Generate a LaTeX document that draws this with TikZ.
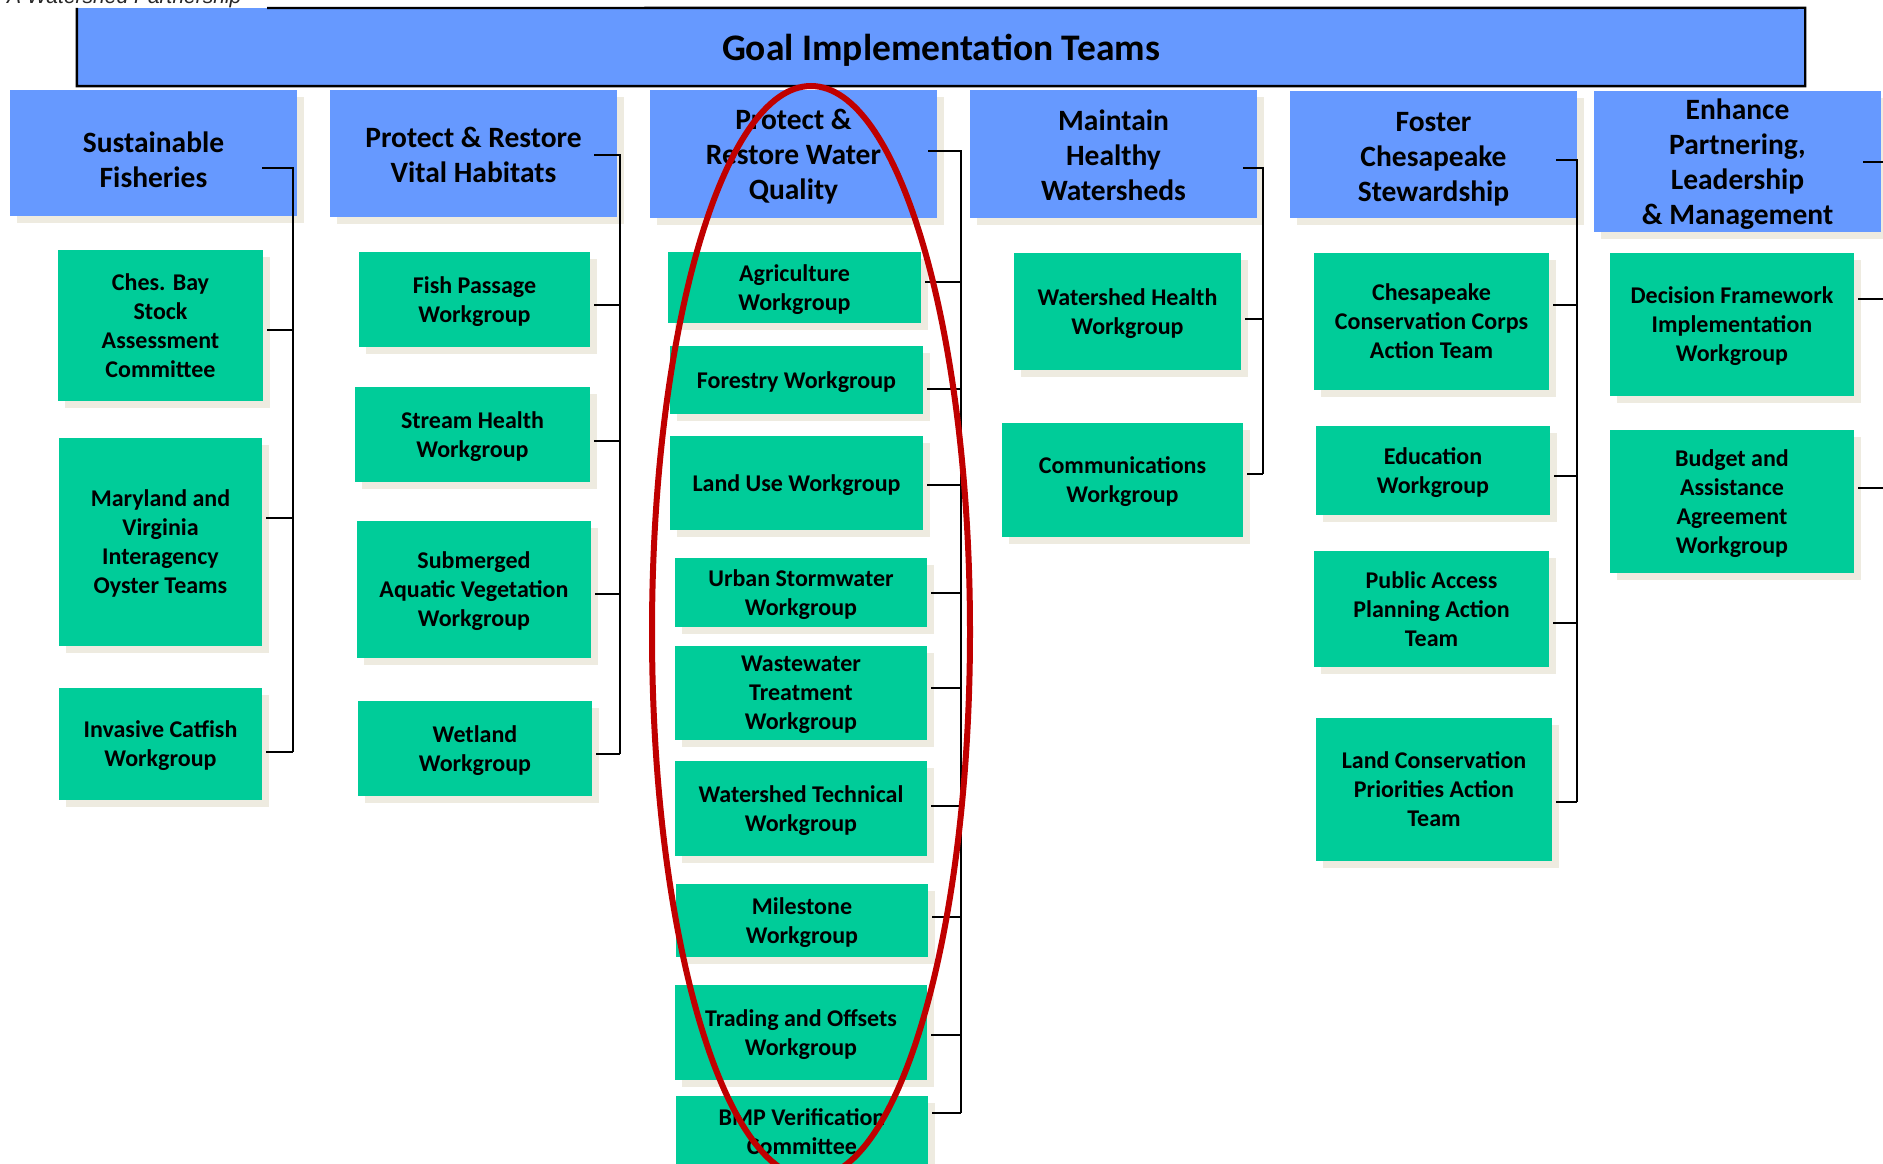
\documentclass[tikz,border=0pt]{standalone}
\usepackage{fontspec}
\setmainfont{Carlito}
\newfontfamily\wsfont{Liberation Sans}
\usetikzlibrary{shadows,calc}
\definecolor{headblue}{HTML}{6699FF}
\definecolor{wggreen}{HTML}{00CC99}
\definecolor{shadowc}{HTML}{EEEBE0}
\definecolor{ovalred}{HTML}{C00000}
\tikzset{
  box/.style={rectangle, inner sep=0pt, align=center, text=black, text depth=0pt,
    general shadow={fill=shadowc, shadow xshift=7pt, shadow yshift=-7pt}},
  hbox/.style={box, fill=headblue, minimum width=287pt,
    font=\fontsize{29.5}{35}\selectfont\bfseries},
  gbox/.style={box, fill=wggreen, font=\fontsize{24}{29}\selectfont\bfseries},
  conn/.style={draw=black, line width=1.8pt},
}
% \wgnode{name}{(x,y)}{width}{height}{text}
\newcommand\wgnode[5]{\node[gbox, minimum width=#3pt, minimum height=#4pt] (#1) at #2 {#5};}
% \wgstub{name}{dy}{trunk}
\newcommand\wgstub[3]{\path ($(#1.east)+(4,#2)$) coordinate (#1s); \draw[conn] (#1s) -- (#1s -| #3);}
\newcommand\topstrut[1]{\rule{0pt}{#1}}
\begin{document}
\begin{tikzpicture}[x=1pt,y=-1pt]
\useasboundingbox (0,0) rectangle (1883,1164);
\fill[white] (0,0) rectangle (1883,1164);

% title
\node[fill=headblue, minimum width=1728pt, minimum height=78pt, inner sep=0pt, text depth=0pt,
  font=\fontsize{37.5}{45}\selectfont\bfseries] (title) at (941,47) {Goal Implementation Teams};
\coordinate (tcut) at (267,8);
\draw[line width=2.4pt] (tcut) -- (title.north east) -- (title.south east) -- (title.south west) -- (title.north west);
\node[anchor=base west, inner sep=0pt, text=black!85,
  font=\wsfont\itshape\fontsize{21}{25}\selectfont] (wsp) at (7,4) {A Watershed Partnership};

% headers
\node[hbox, minimum height=126pt] (h1) at (153.5,153) {\topstrut{33pt}Sustainable\\Fisheries};
\node[hbox, minimum height=127pt] (h2) at (473.5,153.5) {\topstrut{22pt}Protect \& Restore\\Vital Habitats};
\node[hbox, minimum height=128pt] (h3) at (793.5,154) {Protect \&\\Restore Water\\Quality};
\node[hbox, minimum height=128pt] (h4) at (1113.5,154) {\topstrut{22pt}Maintain\\Healthy\\Watersheds};
\node[hbox, minimum height=127pt] (h5) at (1433.5,154.5) {\topstrut{23pt}Foster\\Chesapeake\\Stewardship};
\node[hbox, minimum height=141pt] (h6) at (1737.5,161.5) {Enhance\\Partnering,\\Leadership\\\& Management};

% column 1
\wgnode{c11}{(160.5,325.5)}{205}{151}{Ches. Bay\\Stock\\Assessment\\Committee}
\wgnode{c12}{(160.5,542)}{203}{208}{Maryland and\\Virginia\\Interagency\\Oyster Teams}
\wgnode{c13}{(160.5,744)}{203}{112}{Invasive Catfish\\Workgroup}
% column 2
\wgnode{c21}{(474.5,299.5)}{231}{95}{Fish Passage\\Workgroup}
\wgnode{c22}{(472.5,434.5)}{235}{95}{Stream Health\\Workgroup}
\wgnode{c23}{(474,589.5)}{234}{137}{Submerged\\Aquatic Vegetation\\Workgroup}
\wgnode{c24}{(475,748.5)}{234}{95}{Wetland\\Workgroup}
% column 3
\wgnode{c31}{(794.5,287.5)}{253}{71}{Agriculture\\Workgroup}
\wgnode{c32}{(796.5,380)}{253}{68}{Forestry Workgroup}
\wgnode{c33}{(796.5,483)}{253}{94}{Land Use Workgroup}
\wgnode{c34}{(801,592.5)}{252}{69}{Urban Stormwater\\Workgroup}
\wgnode{c35}{(801,693)}{252}{94}{Wastewater\\Treatment\\Workgroup}
\wgnode{c36}{(801,808.5)}{252}{95}{Watershed Technical\\Workgroup}
\wgnode{c37}{(802,920.5)}{252}{73}{Milestone\\Workgroup}
\wgnode{c38}{(801,1032.5)}{252}{95}{Trading and Offsets\\Workgroup}
\wgnode{c39}{(802,1132)}{252}{72}{BMP Verification\\Committee}
% column 4
\wgnode{c41}{(1127.5,311.5)}{227}{117}{Watershed Health\\Workgroup}
\wgnode{c42}{(1122.5,480)}{241}{114}{Communications\\Workgroup}
% column 5
\wgnode{c51}{(1431.5,321.5)}{235}{137}{Chesapeake\\Conservation Corps\\Action Team}
\wgnode{c52}{(1433,470.5)}{234}{89}{Education\\Workgroup}
\wgnode{c53}{(1431.5,609)}{235}{116}{Public Access\\Planning Action\\Team}
\wgnode{c54}{(1434,789.5)}{236}{143}{Land Conservation\\Priorities Action\\Team}
% column 6
\wgnode{c61}{(1732,324.5)}{244}{143}{Decision Framework\\Implementation\\Workgroup}
\wgnode{c62}{(1732,501.5)}{244}{143}{Budget and\\Assistance\\Agreement\\Workgroup}

% trunks
\coordinate (t1) at (293,168);  \coordinate (t1e) at (293,752);
\coordinate (t2) at (620,155);  \coordinate (t2e) at (620,754);
\coordinate (t3) at (961,151);  \coordinate (t3e) at (961,1113);
\coordinate (t4) at (1263,168); \coordinate (t4e) at (1263,474);
\coordinate (t5) at (1577,160); \coordinate (t5e) at (1577,802);
\coordinate (t6) at (1888,162); \coordinate (t6e) at (1888,488);

\draw[conn] ($(h1.east)+(-35,15)$) -- (t1) -- (t1e);
\draw[conn] ($(h2.east)+(-23,1.5)$) -- (t2) -- (t2e);
\draw[conn] ($(h3.east)+(-9,-3)$) -- (t3) -- (t3e);
\draw[conn] ($(h4.east)+(-14,14)$) -- (t4) -- (t4e);
\draw[conn] ($(h5.east)+(-21,5.5)$) -- (t5) -- (t5e);
\draw[conn] ($(h6.east)+(-18,0.5)$) -- (t6) -- (t6e);

\wgstub{c11}{4.5}{t1}
\wgstub{c12}{-24}{t1}
\wgstub{c13}{8}{t1}
\wgstub{c21}{5.5}{t2}
\wgstub{c22}{6.5}{t2}
\wgstub{c23}{4.5}{t2}
\wgstub{c24}{5.5}{t2}
\wgstub{c31}{-5.5}{t3}
\wgstub{c32}{9}{t3}
\wgstub{c33}{2}{t3}
\wgstub{c34}{0.5}{t3}
\wgstub{c35}{-5}{t3}
\wgstub{c36}{-2.5}{t3}
\wgstub{c37}{-3.5}{t3}
\wgstub{c38}{2.5}{t3}
\wgstub{c39}{-19}{t3}
\wgstub{c41}{7.5}{t4}
\wgstub{c42}{-6}{t4}
\wgstub{c51}{-16.5}{t5}
\wgstub{c52}{5.5}{t5}
\wgstub{c53}{14}{t5}
\wgstub{c54}{12.5}{t5}
\wgstub{c61}{-25.5}{t6}
\wgstub{c62}{-13.5}{t6}

% red oval
\draw[ovalred, line width=6pt] (811,632) ellipse [x radius=159, y radius=546];
\end{tikzpicture}
\end{document}
